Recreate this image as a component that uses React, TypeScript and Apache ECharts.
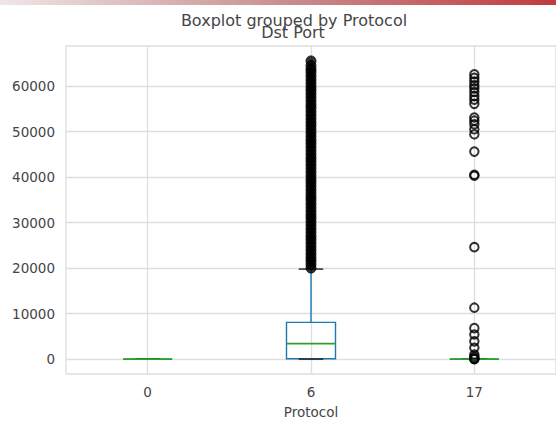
import React, { useEffect, useRef } from "react";
import * as echarts from "echarts";

const categories = ["0", "6", "17"];
const whiskerLow = [0, 0, 0];
const q1 = [0, 80, 0];
const median = [0, 3389, 0];
const q3 = [0, 8080, 0];
const whiskerHigh = [0, 19780, 0];

const outliers6 = [
  20000, 20800, 21600, 22300, 23100, 23900, 24700, 25500, 26300, 27000, 27800,
  28600, 29400, 30200, 31000, 31700, 32500, 33300, 34100, 34900, 35600, 36400,
  37200, 38000, 38800, 39500, 40300, 41100, 41900, 42700, 43500, 44200, 45000,
  45800, 46600, 47400, 48100, 48900, 49700, 50500, 51300, 52000, 52800, 53600,
  54400, 55200, 55900, 56700, 57500, 58300, 59100, 59800, 60600, 61400, 62200,
  63000, 63700, 64500, 65535,
];
const outliers17 = [
  62600, 61800, 61000, 60200, 59500, 58700, 57800, 57000, 56100, 53100, 52400,
  51600, 50500, 49400, 45600, 40500, 40300, 24600, 11300, 6800, 5400, 3900,
  2500, 1000, 500, 123, 53, 0,
];
const yTicks = [0, 10000, 20000, 30000, 40000, 50000, 60000];

const FONT = "DejaVu Sans";
const TEXT = "#454545";
const GRID = "#dedede";
const BLUE = "#1f77b4";
const GREEN = "#2ca02c";

export default function App() {
  const ref = useRef<HTMLDivElement>(null);
  useEffect(() => {
    if (!ref.current) return;
    const chart = echarts.init(ref.current, null, { renderer: "svg" });
    const boxData = categories.map((_, i) => [
      i,
      whiskerLow[i],
      q1[i],
      median[i],
      q3[i],
      whiskerHigh[i],
    ]);
    chart.setOption({
      animation: false,
      backgroundColor: "#ffffff",
      grid: {
        left: 66,
        top: 46,
        width: 494,
        height: 328,
        show: true,
        borderColor: GRID,
        borderWidth: 1.3,
      },
      graphic: [
        {
          type: "rect",
          left: 0,
          top: 0,
          shape: { x: 0, y: 0, width: 556, height: 5 },
          style: {
            fill: new echarts.graphic.LinearGradient(0, 0, 1, 0, [
              { offset: 0, color: "#efe6e6" },
              { offset: 0.5, color: "#c99090" },
              { offset: 1, color: "#c13a40" },
            ]),
          },
          silent: true,
        },
        {
          type: "text",
          x: 294,
          y: 20,
          style: {
            text: "Boxplot grouped by Protocol",
            font: `16px '${FONT}'`,
            fill: TEXT,
            textAlign: "center",
            textVerticalAlign: "middle",
          },
        },
        {
          type: "text",
          x: 293,
          y: 32,
          style: {
            text: "Dst Port",
            font: `16px '${FONT}'`,
            fill: TEXT,
            textAlign: "center",
            textVerticalAlign: "middle",
          },
        },
      ],
      xAxis: {
        type: "category",
        data: categories,
        axisLine: { show: false },
        axisTick: { show: false },
        splitLine: { show: false },
        axisLabel: {
          color: TEXT,
          fontFamily: FONT,
          fontSize: 13.5,
          margin: 11,
        },
        name: "Protocol",
        nameLocation: "middle",
        nameGap: 31,
        nameTextStyle: { color: TEXT, fontFamily: FONT, fontSize: 13.5 },
      },
      yAxis: {
        type: "value",
        min: -3277,
        max: 68812,
        axisLine: { show: false },
        axisTick: { show: false, customValues: yTicks },
        splitLine: { show: false },
        axisLabel: {
          customValues: yTicks,
          formatter: (v: number) => String(Math.round(v)),
          color: TEXT,
          fontFamily: FONT,
          fontSize: 13.5,
          margin: 11,
        },
      },
      series: [
        {
          type: "scatter",
          data: [],
          z: 0,
          silent: true,
          markLine: {
            z: 0,
            silent: true,
            symbol: ["none", "none"],
            label: { show: false },
            emphasis: { disabled: true },
            lineStyle: { color: GRID, width: 1.3, type: "solid" },
            data: [
              ...yTicks.map((v) => ({ yAxis: v })),
              ...categories.map((c) => ({ xAxis: c })),
            ],
          },
        },
        {
          type: "custom",
          z: 3,
          silent: true,
          encode: { x: 0, y: [1, 2, 3, 4, 5] },
          data: boxData,
          renderItem: (params: any, api: any) => {
            const i = api.value(0);
            const c = (v: number) => api.coord([i, v]);
            const pMin = c(api.value(1));
            const pQ1 = c(api.value(2));
            const pMd = c(api.value(3));
            const pQ3 = c(api.value(4));
            const pMax = c(api.value(5));
            const bw = api.size([1, 0])[0] * 0.3;
            const x = pMd[0];
            const lw = 1.4;
            return {
              type: "group",
              children: [
                {
                  type: "line",
                  shape: { x1: x, y1: pQ1[1], x2: x, y2: pMin[1] },
                  style: { stroke: BLUE, lineWidth: lw },
                },
                {
                  type: "line",
                  shape: { x1: x, y1: pQ3[1], x2: x, y2: pMax[1] },
                  style: { stroke: BLUE, lineWidth: lw },
                },
                {
                  type: "rect",
                  shape: {
                    x: x - bw / 2,
                    y: pQ3[1],
                    width: bw,
                    height: pQ1[1] - pQ3[1],
                  },
                  style: { fill: "none", stroke: BLUE, lineWidth: lw },
                },
                {
                  type: "line",
                  shape: { x1: x - bw / 4, y1: pMin[1], x2: x + bw / 4, y2: pMin[1] },
                  style: { stroke: "#222", lineWidth: lw },
                },
                {
                  type: "line",
                  shape: { x1: x - bw / 4, y1: pMax[1], x2: x + bw / 4, y2: pMax[1] },
                  style: { stroke: "#222", lineWidth: lw },
                },
                {
                  type: "line",
                  shape: { x1: x - bw / 2, y1: pMd[1], x2: x + bw / 2, y2: pMd[1] },
                  style: { stroke: GREEN, lineWidth: 1.6 },
                },
              ],
            };
          },
        },
        {
          type: "scatter",
          z: 4,
          silent: true,
          symbol: "circle",
          symbolSize: 10,
          itemStyle: { color: "#000", borderColor: "#000", borderWidth: 1 },
          data: outliers6.map((v) => [1, v]),
        },
        {
          type: "scatter",
          z: 4,
          silent: true,
          symbol: "circle",
          symbolSize: 8.5,
          itemStyle: { color: "none", borderColor: "#000", borderWidth: 2 },
          data: outliers17.map((v) => [2, v]),
        },
      ],
    });
    return () => chart.dispose();
  }, []);
  return (
    <div
      ref={ref}
      style={{ position: "fixed", left: 0, top: 0, width: 556, height: 424 }}
    />
  );
}
